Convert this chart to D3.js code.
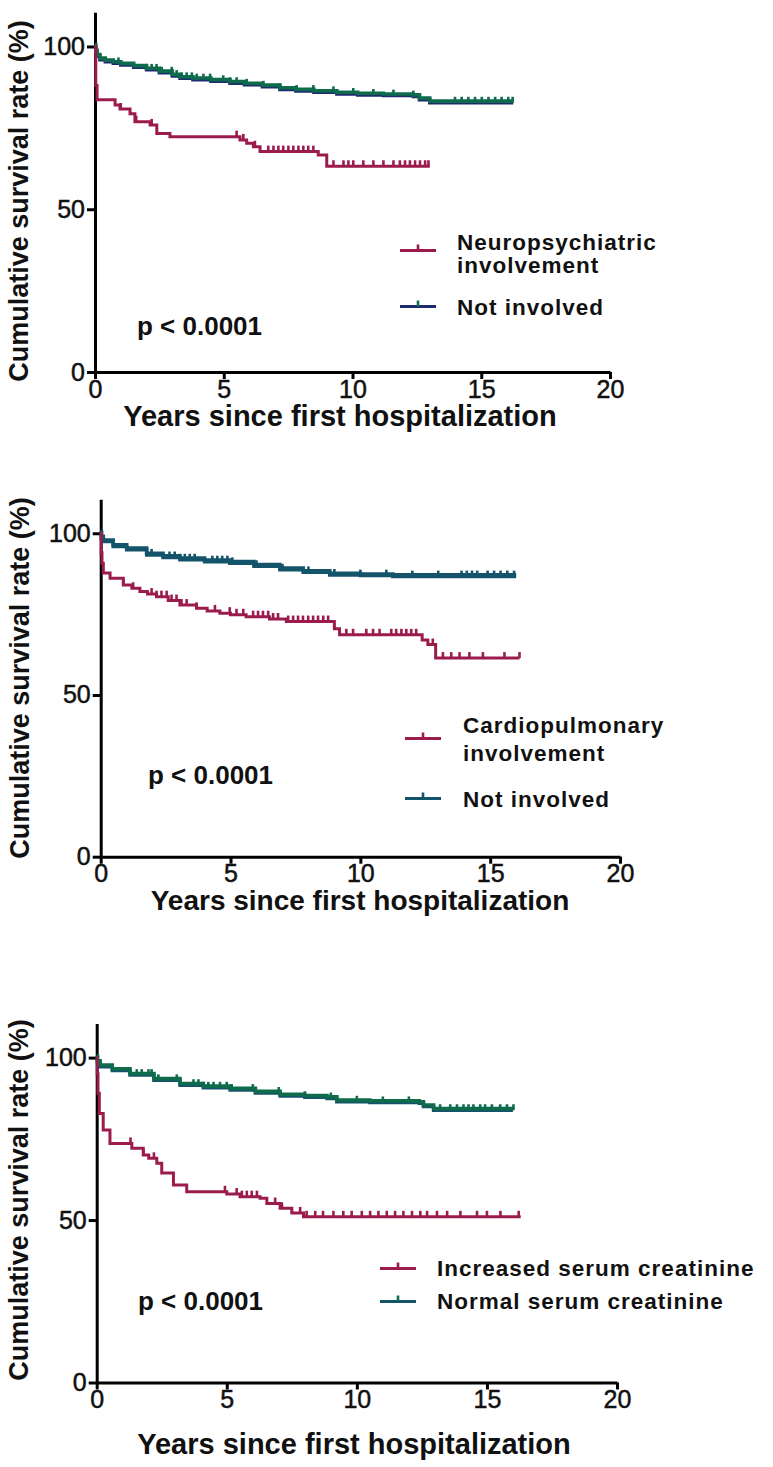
<!DOCTYPE html>
<html><head><meta charset="utf-8">
<script src="https://cdn.jsdelivr.net/npm/d3@7"></script>
<style>
html,body{margin:0;padding:0;background:#fff;}
svg{display:block;}
text{font-family:"Liberation Sans",Arial,sans-serif;fill:#111;}
</style></head>
<body>
<script>
// ---------- data ----------
const xTicks = [0, 5, 10, 15, 20];
const yTicks = [0, 50, 100];
const yTitle = "Cumulative survival rate (%)";
const xTitle = "Years since first hospitalization";
const pLabel = "p < 0.0001";

// Panel 1
const neuroT = [0, 0.03, 0.08, 0.78, 0.97, 1.36, 1.55, 2.14, 2.4, 2.91, 5.63, 5.89, 6.15, 6.41, 8.67, 9.0, 13.0];
const neuroS = [100, 88, 83.6, 82.0, 80.8, 79.3, 76.9, 75.9, 73.3, 72.3, 71.3, 70.3, 69.2, 67.7, 66.7, 63.2, 63.2];
const neuroCens = [1.0, 1.6, 2.2, 5.5, 5.76, 6.21, 6.73, 6.93, 7.12, 7.31, 7.51, 7.7, 7.9, 8.09, 8.28, 8.48, 9.26, 9.65, 9.84, 10.03, 10.42, 10.81, 11.2, 11.59, 11.84, 12.04, 12.23, 12.43, 12.62, 12.82, 12.95];
const notInv1T = [0, 0.03, 0.08, 0.19, 0.4, 0.71, 1.0, 1.5, 2.0, 2.5, 3.0, 3.3, 3.8, 4.5, 5.24, 5.8, 6.5, 7.18, 7.8, 8.5, 9.39, 10.2, 11.2, 12.36, 12.6, 13.0, 16.24];
const notInv1S = [100, 98.3, 97.0, 95.9, 95.3, 94.8, 94.3, 93.6, 92.8, 91.9, 90.9, 90.2, 89.8, 89.3, 88.7, 88.2, 87.6, 86.8, 86.3, 85.9, 85.4, 85.1, 84.9, 84.6, 83.6, 82.7, 82.7];
const notInv1Cens = [0.91, 2.01, 2.2, 2.39, 2.59, 2.98, 3.17, 3.37, 3.56, 3.76, 3.95, 4.21, 4.47, 4.98, 5.24, 5.5, 5.89, 6.54, 7.18, 7.83, 8.48, 9.26, 10.03, 10.81, 11.59, 12.36, 13.98, 14.24, 14.5, 14.76, 15.02, 15.28, 15.54, 15.79, 16.05, 16.22];

// Panel 2
const cardioT = [0, 0.02, 0.05, 0.1, 0.36, 0.87, 1.2, 1.51, 1.8, 2.15, 2.6, 3.05, 3.69, 4.1, 4.59, 5.0, 5.6, 6.5, 7.15, 9.0, 9.2, 12.38, 12.6, 12.9, 16.13];
const cardioS = [100, 94, 90.7, 87.7, 86.1, 84.0, 83.0, 82.0, 81.2, 80.4, 79.2, 77.8, 76.8, 76.0, 75.3, 74.8, 74.2, 73.5, 72.7, 70.5, 68.6, 67.0, 65.6, 61.4, 61.4];
const cardioCens = [0.87, 1.25, 1.96, 2.15, 2.34, 2.54, 2.73, 2.92, 3.11, 3.31, 3.69, 4.4, 4.97, 5.23, 5.49, 5.87, 6.06, 6.25, 6.45, 6.64, 6.83, 7.22, 7.41, 7.6, 7.79, 7.99, 8.18, 8.37, 8.57, 8.76, 9.46, 9.72, 10.23, 10.49, 10.74, 11.19, 11.38, 11.58, 11.77, 11.96, 12.15, 12.79, 13.18, 13.5, 13.82, 14.2, 14.72, 15.55, 16.13];
const notInv2T = [0, 0.03, 0.1, 0.48, 1.0, 1.77, 2.4, 3.05, 4.0, 4.97, 5.9, 6.9, 7.8, 8.82, 10.0, 11.25, 16.0];
const notInv2S = [100, 98.5, 97.4, 95.9, 94.9, 93.3, 92.5, 91.8, 91.2, 90.7, 89.8, 88.7, 87.9, 87.1, 86.9, 86.6, 86.6];
const notInv2Cens = [1.77, 1.96, 2.65, 2.85, 3.05, 3.24, 3.43, 3.62, 4.3, 4.49, 4.68, 4.88, 5.07, 6.0, 7.0, 8.0, 9.0, 10.0, 11.0, 12.0, 13.0, 13.9, 14.1, 14.3, 14.5, 14.9, 15.15, 15.4, 15.66, 15.92];

// Panel 3
const creatIncT = [0, 0.02, 0.05, 0.1, 0.25, 0.51, 1.35, 1.79, 2.0, 2.31, 2.5, 2.95, 3.46, 5.0, 5.51, 6.28, 6.54, 7.05, 7.5, 7.95, 16.3];
const creatIncS = [100, 95, 89, 82.8, 77.7, 73.6, 72.1, 70.0, 69.0, 67.5, 64.5, 60.8, 58.7, 58.0, 57.2, 56.7, 55.1, 53.6, 52.2, 51.0, 51.0];
const creatIncCens = [1.3, 1.8, 2.2, 4.93, 5.38, 5.58, 5.77, 5.96, 6.16, 6.86, 7.12, 7.82, 8.07, 8.4, 8.7, 9.1, 9.48, 9.8, 10.19, 10.51, 10.83, 11.15, 11.47, 11.79, 12.12, 12.44, 12.7, 13.08, 13.47, 13.98, 14.62, 15.0, 15.52, 16.22];
const creatNormT = [0, 0.03, 0.13, 0.6, 1.28, 2.2, 3.2, 4.1, 5.13, 6.1, 7.05, 8.0, 8.85, 9.23, 10.5, 12.4, 12.56, 12.95, 16.0];
const creatNormS = [100, 98.5, 97.2, 96.0, 94.6, 93.0, 91.5, 90.7, 90.0, 89.1, 88.2, 87.8, 87.4, 86.4, 86.2, 85.9, 84.9, 83.8, 83.8];
const creatNormCens = [1.54, 1.73, 1.99, 2.11, 2.37, 3.08, 3.21, 3.72, 3.91, 4.1, 4.29, 4.49, 4.74, 5.0, 5.19, 6.0, 7.0, 8.0, 9.0, 10.0, 11.0, 12.0, 13.2, 13.59, 13.85, 14.1, 14.29, 14.48, 14.74, 14.93, 15.19, 15.51, 15.77, 16.02];

// ---------- styling / layout ----------
const RED = "#9b1c4c", NAVY = "#1e2a70", GREEN = "#0e6b4c", TEAL = "#14546b";

const panels = [
  { x0: 95, x20: 610, y0: 372, yTop: 12.3, yTitleX: 28, yTitleY: 201, xTitleY: 426, xTitleX: 340, xTitleSize: 29,
    pos: {x: 137, y: 335},
    series: [
      { t: notInv1T, s: notInv1S, cens: notInv1Cens, line: NAVY, band: GREEN, tick: GREEN },
      { t: neuroT, s: neuroS, cens: neuroCens, line: RED, band: null, tick: RED }
    ],
    legend: [
      { lines: ["Neuropsychiatric", "involvement"], line: RED, tick: RED, lx: 400, ly: 250.5, tx: 457, ty: [250, 273] },
      { lines: ["Not involved"], line: NAVY, tick: GREEN, lx: 400, ly: 306.5, tx: 457, ty: [315] }
    ]},
  { x0: 100.7, x20: 620, y0: 856.7, yTop: 499.3, yTitleX: 29, yTitleY: 678, xTitleY: 910, xTitleX: 360, xTitleSize: 28,
    pos: {x: 148, y: 784},
    series: [
      { t: notInv2T, s: notInv2S, cens: notInv2Cens, line: TEAL, band: TEAL, tick: TEAL },
      { t: cardioT, s: cardioS, cens: cardioCens, line: RED, band: null, tick: RED }
    ],
    legend: [
      { lines: ["Cardiopulmonary", "involvement"], line: RED, tick: RED, lx: 405, ly: 738.5, tx: 463, ty: [733, 761] },
      { lines: ["Not involved"], line: TEAL, tick: TEAL, lx: 405, ly: 798.5, tx: 463, ty: [807] }
    ]},
  { x0: 96.7, x20: 617, y0: 1382.5, yTop: 1023.5, yTitleX: 28, yTitleY: 1200, xTitleY: 1454, xTitleX: 354, xTitleSize: 29,
    pos: {x: 138, y: 1310},
    series: [
      { t: creatNormT, s: creatNormS, cens: creatNormCens, line: TEAL, band: GREEN, tick: GREEN },
      { t: creatIncT, s: creatIncS, cens: creatIncCens, line: RED, band: null, tick: RED }
    ],
    legend: [
      { lines: ["Increased serum creatinine"], line: RED, tick: RED, lx: 380, ly: 1268.5, tx: 437, ty: [1276] },
      { lines: ["Normal serum creatinine"], line: TEAL, tick: GREEN, lx: 380, ly: 1301.5, tx: 437, ty: [1309] }
    ]}
];

const W = 773, H = 1467;
const svg = d3.select("body").append("svg").attr("width", W).attr("height", H);

panels.forEach(p => {
  const g = svg.append("g");
  const x = d3.scaleLinear().domain([0, 20]).range([p.x0, p.x20]);
  const y = d3.scaleLinear().domain([0, 110.5]).range([p.y0, p.yTop]);

  // axes
  const yAx = g.append("g").attr("transform", `translate(${p.x0},0)`)
    .call(d3.axisLeft(y).tickValues(yTicks).tickSize(8).tickSizeOuter(0).tickPadding(2));
  const xAx = g.append("g").attr("transform", `translate(0,${p.y0})`)
    .call(d3.axisBottom(x).tickValues(xTicks).tickSize(7).tickSizeOuter(0).tickPadding(1));
  [yAx, xAx].forEach(a => {
    a.select(".domain").attr("stroke", "#000").attr("stroke-width", 3);
    a.selectAll(".tick line").attr("stroke", "#000").attr("stroke-width", 3);
    a.selectAll(".tick text").attr("font-size", 25).attr("fill", "#111")
      .attr("stroke", "#111").attr("stroke-width", 0.5)
      .style("font-family", '"Liberation Sans", Arial, sans-serif');
  });

  // curves
  const line = d3.line().x(d => x(d[0])).y(d => y(d[1])).curve(d3.curveStepAfter);
  p.series.forEach(s => {
    const pts = s.t.map((t, i) => [t, s.s[i]]);
    const stepVal = tt => { let v = s.s[0]; for (let i = 0; i < s.t.length; i++) if (s.t[i] <= tt) v = s.s[i]; return v; };
    if (s.band) {
      g.append("path").attr("d", line(pts)).attr("fill", "none").attr("stroke", s.line).attr("stroke-width", 3.4);
      g.append("path").attr("d", line(pts)).attr("transform", "translate(0,-1.7)")
        .attr("fill", "none").attr("stroke", s.band).attr("stroke-width", 3.6);
    } else {
      g.append("path").attr("d", line(pts)).attr("fill", "none").attr("stroke", s.line).attr("stroke-width", 3);
    }
    g.selectAll(null).data(s.cens).join("line")
      .attr("x1", d => x(d)).attr("x2", d => x(d))
      .attr("y1", d => y(stepVal(d))).attr("y2", d => y(stepVal(d)) - 6)
      .attr("stroke", s.tick).attr("stroke-width", 2.6);
  });

  // titles
  g.append("text").attr("transform", `translate(${p.yTitleX},${p.yTitleY}) rotate(-90)`)
    .attr("text-anchor", "middle").attr("font-size", 27).attr("font-weight", "bold").text(yTitle);
  g.append("text").attr("x", p.xTitleX).attr("y", p.xTitleY).attr("text-anchor", "middle")
    .attr("font-size", p.xTitleSize).attr("font-weight", "bold").text(xTitle);
  g.append("text").attr("x", p.pos.x).attr("y", p.pos.y).attr("font-size", 26)
    .attr("font-weight", "bold").text(pLabel);

  // legend
  p.legend.forEach(l => {
    g.append("line").attr("x1", l.lx).attr("x2", l.lx + 36).attr("y1", l.ly).attr("y2", l.ly)
      .attr("stroke", l.line).attr("stroke-width", 3);
    g.append("line").attr("x1", l.lx + 18).attr("x2", l.lx + 18).attr("y1", l.ly).attr("y2", l.ly - 6)
      .attr("stroke", l.tick).attr("stroke-width", 2.6);
    l.lines.forEach((txt, i) => {
      g.append("text").attr("x", l.tx).attr("y", l.ty[i]).attr("font-size", 22.5)
        .attr("font-weight", "bold").attr("letter-spacing", 1).text(txt);
    });
  });
});
</script>
</body></html>
